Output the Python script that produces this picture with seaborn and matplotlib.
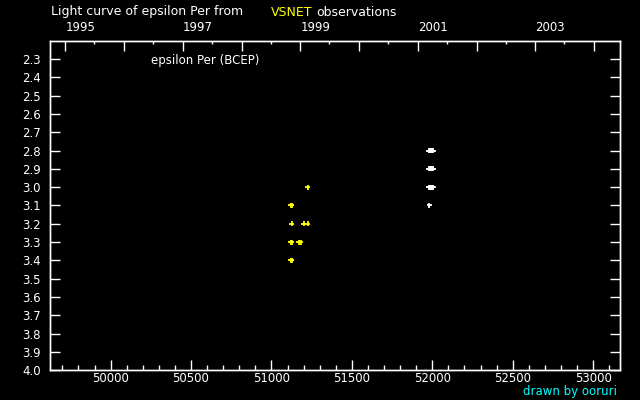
import datetime
import numpy as np
import pandas as pd
import matplotlib
matplotlib.use('Agg')
import matplotlib.pyplot as plt
import seaborn as sns

# observations (JD - 2400000, visual magnitude)
vsnet_jd = [51122, 51126, 51125, 51200, 51225, 51122, 51126, 51169, 51181, 51122, 51126, 51225]
vsnet_mag = [3.1, 3.1, 3.2, 3.2, 3.2, 3.3, 3.3, 3.3, 3.3, 3.4, 3.4, 3.0]
other_jd = [51979, 51985, 51992, 51998, 52004,
            51979, 51985, 51992, 51998, 52004,
            51979, 51985, 51992, 51998, 52004,
            51982]
other_mag = [2.8, 2.8, 2.8, 2.8, 2.8,
             2.9, 2.9, 2.9, 2.9, 2.9,
             3.0, 3.0, 3.0, 3.0, 3.0,
             3.1]

mag_ticks = [round(2.3 + 0.1 * i, 1) for i in range(18)]
year_ticks = list(range(1995, 2005))
year_labels = [str(y) if y % 2 == 1 else '' for y in year_ticks]

df = pd.DataFrame({
    'jd': vsnet_jd + other_jd,
    'mag': vsnet_mag + other_mag,
    'src': ['VSNET'] * len(vsnet_jd) + ['other'] * len(other_jd),
})

sns.set_style('dark', {'axes.facecolor': 'black', 'figure.facecolor': 'black',
                       'axes.edgecolor': 'white', 'text.color': 'white',
                       'xtick.color': 'white', 'ytick.color': 'white'})
plt.rcParams['font.family'] = ['DejaVu Sans']

fig = plt.figure(figsize=(6.4, 4), dpi=100)
ax = fig.add_axes([50.3 / 640, 29.7 / 400, 570 / 640, 329.6 / 400])

sns.scatterplot(data=df, x='jd', y='mag', hue='src',
                palette={'VSNET': '#ffff00', 'other': '#ffffff'},
                marker='+', s=14, linewidth=1.3, legend=False, ax=ax)

ax.set_xlim(49625, 53169)
ax.set_ylim(4.0, 2.2)
ax.set_xlabel('')
ax.set_ylabel('')
ax.grid(False)
for sp in ax.spines.values():
    sp.set_color('white')
    sp.set_linewidth(1)

ax.set_xticks(np.arange(50000, 53001, 500))
ax.set_xticks(np.arange(49700, 53101, 100), minor=True)
ax.set_yticks(mag_ticks)
ax.set_yticklabels([f'{m:.1f}' for m in mag_ticks])
ax.tick_params(axis='x', which='major', direction='in', length=7, width=1,
               labelsize=8.5, pad=1.5, colors='white')
ax.tick_params(axis='x', which='minor', direction='in', length=3.5, width=1,
               colors='white')
ax.tick_params(axis='y', which='major', direction='in', length=7, width=1,
               labelsize=8.5, pad=7, left=True, right=True, colors='white')

# top axis: calendar years
epoch = datetime.date(1858, 11, 17)
def jd_of(y, m):
    return (datetime.date(y, m, 1) - epoch).days + 0.5

top = ax.twiny()
top.set_xlim(ax.get_xlim())
top.set_xticks([jd_of(y, 1) for y in year_ticks])
top.set_xticklabels(year_labels, ha='left')
top.set_xticks([jd_of(y, 7) for y in year_ticks[:-1]], minor=True)
top.tick_params(axis='x', which='major', direction='in', length=7, width=1,
                labelsize=8.5, pad=5, colors='white')
top.tick_params(axis='x', which='minor', direction='in', length=2.5, width=1,
                colors='white')
top.grid(False)
for sp in top.spines.values():
    sp.set_color('white')
    sp.set_linewidth(1)

ax.text(0.176, 0.939, 'epsilon Per (BCEP)', transform=ax.transAxes,
        color='white', fontsize=8.5, va='center', ha='left')

fig.text(50.7 / 640, 1 - 12 / 400, 'Light curve of epsilon Per from',
         color='white', fontsize=9, va='center', ha='left')
fig.text(271 / 640, 1 - 12 / 400, 'VSNET', color='#ffff00', fontsize=9,
         va='center', ha='left')
fig.text(316.7 / 640, 1 - 12 / 400, 'observations', color='white', fontsize=9,
         va='center', ha='left')
fig.text(617 / 640, 1 - 391 / 400, 'drawn by ooruri', color='#00ffff',
         fontsize=8.5, va='center', ha='right')

fig.savefig('out.png', dpi=100, facecolor='black')
